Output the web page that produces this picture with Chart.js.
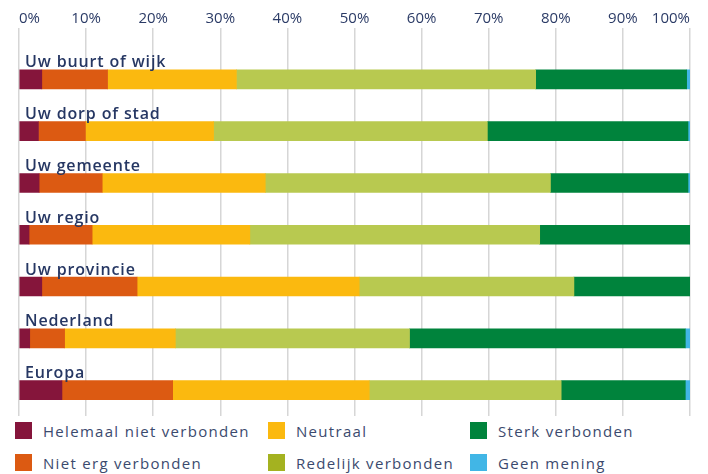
<!DOCTYPE html>
<html lang="nl">
<head>
<meta charset="utf-8">
<script src="https://cdn.jsdelivr.net/npm/chart.js@4"></script>
<style>
  body { margin: 0; background: #fff; font-family: "Open Sans", sans-serif; }
  #wrap { position: relative; width: 708px; height: 474px; overflow: hidden; }
  #chartBox { position: absolute; left: 0; top: 0; width: 708px; height: 418px; }
  .item { position: absolute; display: flex; align-items: center; font-size: 15px; letter-spacing: 1.3px; color: #3b4a6e; white-space: nowrap; }
  .swatch { width: 17px; height: 17px; margin-right: 11px; flex: none; }
</style>
</head>
<body>
<div id="wrap">
  <div id="chartBox"><canvas id="chart"></canvas></div>
  <div id="legend"></div>
</div>
<script>
// categories (top to bottom)
const categories = ["Uw buurt of wijk", "Uw dorp of stad", "Uw gemeente", "Uw regio", "Uw provincie", "Nederland", "Europa"];

// series values in %
const helemaalNiet = [3.4, 2.9, 3.0, 1.5, 3.4, 1.6, 6.4];
const nietErg      = [9.8, 7.0, 9.4, 9.4, 14.2, 5.2, 16.5];
const neutraal     = [19.2, 19.1, 24.3, 23.5, 33.1, 16.5, 29.3];
const redelijk     = [44.6, 40.8, 42.5, 43.2, 32.0, 34.9, 28.6];
const sterk        = [22.5, 29.9, 20.5, 22.4, 17.3, 41.1, 18.5];
const geenMening   = [0.5, 0.3, 0.3, 0.0, 0.0, 0.7, 0.7];

const seriesNames = ["Helemaal niet verbonden", "Niet erg verbonden", "Neutraal", "Redelijk verbonden", "Sterk verbonden", "Geen mening"];
const seriesValues = [helemaalNiet, nietErg, neutraal, redelijk, sterk, geenMening];
const barColors = ["#85153b", "#dc5a12", "#fbb90f", "#b8c950", "#00833c", "#41b6e6"];
const legendColors = ["#85153b", "#dc5a12", "#fbb90f", "#a4b220", "#00833c", "#41b6e6"];

const tickValues = [0, 10, 20, 30, 40, 50, 60, 70, 80, 90, 100];

const textColor = "#2b3b66";

// category titles drawn above each bar
const barTitles = {
    id: "barTitles",
    afterDatasetsDraw(chart) {
        const ctx = chart.ctx;
        const y = chart.scales.y;
        ctx.save();
        ctx.font = "600 16px 'Open Sans'";
        ctx.letterSpacing = "0.85px";
        ctx.fillStyle = "#263763";
        ctx.textAlign = "left";
        ctx.textBaseline = "alphabetic";
        categories.forEach((c, i) => {
            ctx.fillText(c, 25, y.getPixelForValue(i) - 9.5 - 2.5);
        });
        ctx.restore();
    }
};

new Chart(document.getElementById("chart").getContext("2d"), {
    type: "bar",
    data: {
        labels: categories,
        datasets: seriesValues.map((vals, i) => ({
            label: seriesNames[i],
            data: vals,
            backgroundColor: barColors[i],
            borderWidth: 0,
            barThickness: 19
        }))
    },
    options: {
        indexAxis: "y",
        responsive: true,
        maintainAspectRatio: false,
        animation: false,
        layout: { padding: { top: 10, left: 19, right: 18, bottom: 2 } },
        scales: {
            x: {
                position: "top",
                stacked: true,
                min: 0,
                max: 100,
                afterBuildTicks: axis => { axis.ticks = tickValues.map(v => ({ value: v })); },
                grid: { color: "#d6d6d6", lineWidth: 1.5, tickLength: 25.5, tickColor: "#d6d6d6" },
                border: { display: false },
                ticks: {
                    padding: 0,
                    align: "inner",
                    color: textColor,
                    font: { family: "Open Sans", size: 15 },
                    callback: v => v + "%",
                    maxRotation: 0
                }
            },
            y: {
                stacked: true,
                display: false
            }
        },
        plugins: {
            legend: { display: false },
            tooltip: { enabled: false }
        }
    },
    plugins: [barTitles]
});

// legend: three columns, two rows, filled column by column
const colX = [15, 268, 470];
const rowY = [422, 454];
const legend = document.getElementById("legend");
seriesNames.forEach((name, i) => {
    const item = document.createElement("div");
    item.className = "item";
    item.style.left = colX[Math.floor(i / 2)] + "px";
    item.style.top = rowY[i % 2] + "px";
    item.style.height = "17px";
    item.innerHTML = `<span class="swatch" style="background:${legendColors[i]}"></span><span>${name}</span>`;
    legend.appendChild(item);
});
</script>
</body>
</html>
